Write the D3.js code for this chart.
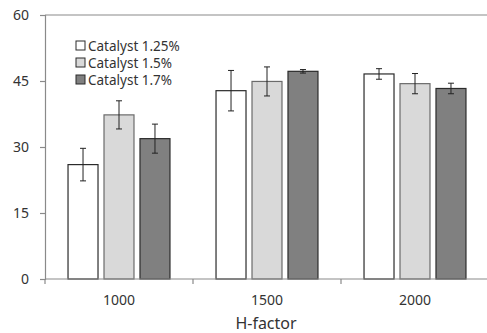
<!DOCTYPE html>
<html>
<head>
<meta charset="utf-8">
<script src="https://cdn.jsdelivr.net/npm/d3@7"></script>
<style>
  body { margin: 0; background: #fff; }
  text { font-family: "Noto Sans", "Open Sans", sans-serif; fill: #333; }
</style>
</head>
<body>
<div id="chart"></div>
<script>
const hFactors = ["1000", "1500", "2000"];
const series = ["Catalyst 1.25%", "Catalyst 1.5%", "Catalyst 1.7%"];
const means = [
    [26.0, 37.3, 31.9],
    [42.8, 44.9, 47.2],
    [46.6, 44.4, 43.3]
];
const errors = [
    [3.7, 3.2, 3.3],
    [4.6, 3.3, 0.4],
    [1.2, 2.3, 1.2]
];
const yTicks = [0, 15, 30, 45, 60];
const fills = ["#ffffff", "#d9d9d9", "#808080"];
const strokes = ["#2b2b2b", "#6b6b6b", "#2b2b2b"];

const width = 487, height = 333;
const plotLeft = 45, plotRight = 489, plotTop = 15, plotBottom = 279;

const svg = d3.select("#chart").append("svg")
    .attr("width", width)
    .attr("height", height);

const x = d3.scaleBand().domain(hFactors).range([plotLeft, plotRight]);
const xInner = d3.scaleBand().domain(series)
    .range([0, x.bandwidth()])
    .paddingInner(1 / 6)
    .paddingOuter(0.64);
const y = d3.scaleLinear().domain([0, 60]).range([plotBottom, plotTop]);

// top frame line
svg.append("line")
    .attr("x1", plotLeft).attr("x2", plotRight)
    .attr("y1", plotTop).attr("y2", plotTop)
    .attr("stroke", "#8a8a8a").attr("stroke-width", 1.2);

// y axis
const yAxis = svg.append("g")
    .attr("transform", `translate(${plotLeft},0)`)
    .call(d3.axisLeft(y).tickValues(yTicks).tickSize(5).tickPadding(11));
yAxis.select(".domain").attr("stroke", "#8a8a8a").attr("stroke-width", 1.2);
yAxis.selectAll(".tick line").attr("stroke", "#8a8a8a").attr("stroke-width", 1.2);
yAxis.selectAll(".tick text")
    .style("font-size", "14px")
    .style("font-family", null);

// bars
const rows = [];
hFactors.forEach((h, i) => series.forEach((s, j) => {
    rows.push({ h, s, j, v: means[i][j], e: errors[i][j] });
}));

svg.append("g").selectAll("rect")
    .data(rows)
    .enter()
    .append("rect")
    .attr("x", d => x(d.h) + xInner(d.s))
    .attr("y", d => y(d.v))
    .attr("width", xInner.bandwidth())
    .attr("height", d => y(0) - y(d.v))
    .attr("fill", d => fills[d.j])
    .attr("stroke", d => strokes[d.j])
    .attr("stroke-width", 1.2);

// error bars
const eb = svg.append("g").selectAll("g")
    .data(rows)
    .enter()
    .append("g")
    .attr("transform", d => `translate(${x(d.h) + xInner(d.s) + xInner.bandwidth() / 2},0)`)
    .attr("stroke", "#222")
    .attr("stroke-width", 1);
eb.append("line")
    .attr("y1", d => y(d.v + d.e)).attr("y2", d => y(d.v - d.e));
eb.append("line")
    .attr("x1", -3).attr("x2", 3)
    .attr("y1", d => y(d.v + d.e)).attr("y2", d => y(d.v + d.e));
eb.append("line")
    .attr("x1", -3).attr("x2", 3)
    .attr("y1", d => y(d.v - d.e)).attr("y2", d => y(d.v - d.e));

// x axis, ticks sit on the group boundaries
const xAxis = svg.append("g")
    .attr("transform", `translate(0,${plotBottom})`);
xAxis.append("line")
    .attr("x1", plotLeft).attr("x2", plotRight)
    .attr("stroke", "#8a8a8a").attr("stroke-width", 1.2);
xAxis.selectAll(".bound")
    .data(hFactors)
    .enter()
    .append("line")
    .attr("x1", d => x(d)).attr("x2", d => x(d))
    .attr("y1", 0).attr("y2", 5)
    .attr("stroke", "#8a8a8a").attr("stroke-width", 1.2);
xAxis.selectAll("text")
    .data(hFactors)
    .enter()
    .append("text")
    .attr("x", d => x(d) + x.bandwidth() / 2)
    .attr("y", 26)
    .attr("text-anchor", "middle")
    .style("font-size", "14px")
    .text(d => d);

svg.append("text")
    .attr("x", 266)
    .attr("y", 329)
    .attr("text-anchor", "middle")
    .style("font-size", "16px")
    .text("H-factor");

// legend
const legend = svg.append("g").selectAll("g")
    .data(series)
    .enter()
    .append("g")
    .attr("transform", (d, i) => `translate(76,${41 + i * 17})`);
legend.append("rect")
    .attr("width", 9).attr("height", 9)
    .attr("fill", (d, i) => fills[i])
    .attr("stroke", "#2b2b2b")
    .attr("stroke-width", 1);
legend.append("text")
    .attr("x", 12)
    .attr("y", 9.5)
    .style("font-size", "13.5px")
    .text(d => d);
</script>
</body>
</html>
